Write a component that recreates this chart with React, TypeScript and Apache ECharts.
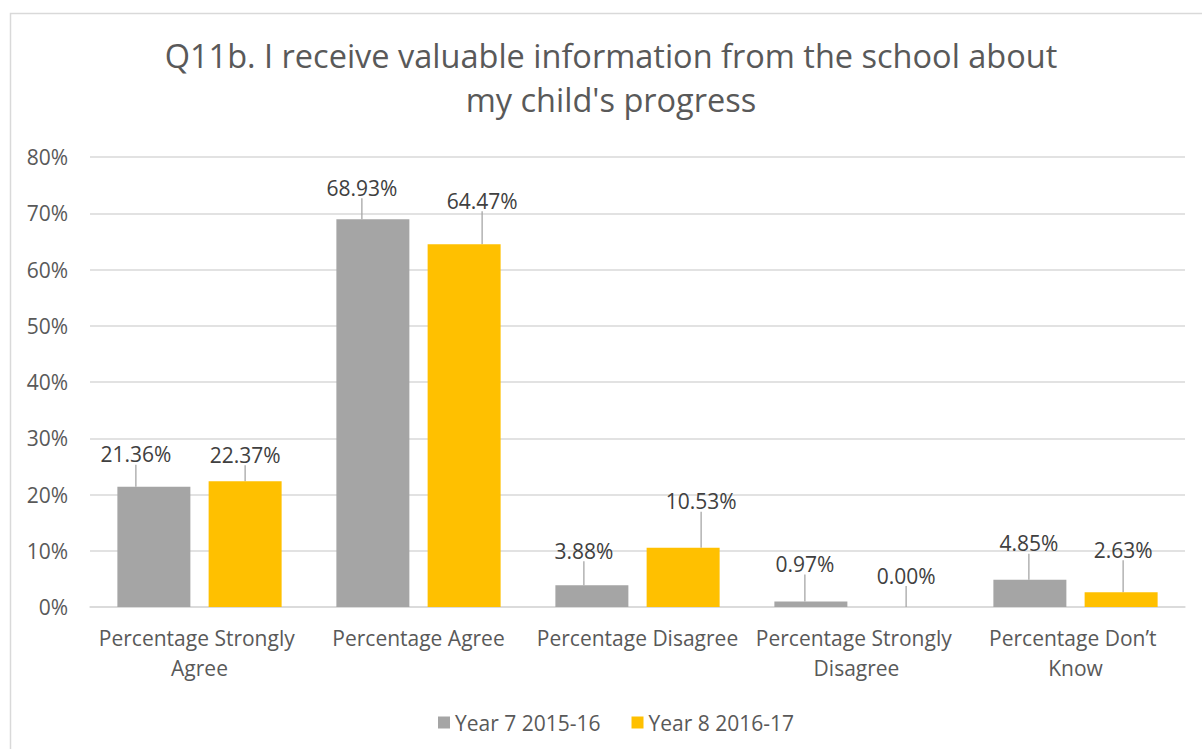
import React, { useEffect, useRef } from "react";
import * as echarts from "echarts";

const titleLines = [
  "Q11b. I receive valuable information from the school about",
  "my child's progress",
];
const categories = [
  "Percentage Strongly Agree",
  "Percentage Agree",
  "Percentage Disagree",
  "Percentage Strongly Disagree",
  "Percentage Don\u2019t Know",
];
const seriesNames = ["Year 7 2015-16", "Year 8 2016-17"];
const year7Values = [21.36, 68.93, 3.88, 0.97, 4.85];
const year8Values = [22.37, 64.47, 10.53, 0.0, 2.63];
const yTicks = [0, 10, 20, 30, 40, 50, 60, 70, 80];

// label callout offsets (layout only)
const labelOffsets = [
  [
    [-18, -17],
    [-11, -16],
    [-8, -19],
    [-6, -22],
    [-1, -21],
  ],
  [
    [0, -11],
    [18, -28],
    [18, -31],
    [4, -16],
    [2, -27],
  ],
];

const FONT = "'Open Sans', sans-serif";
const TEXT = "#595959";

export default function App() {
  const ref = useRef<HTMLDivElement>(null);
  useEffect(() => {
    if (!ref.current) return;
    const chart = echarts.init(ref.current, null, { renderer: "svg" });
    const mkSeries = (name: string, data: number[], color: string, si: number) => ({
      name,
      type: "bar",
      data,
      barGap: "25%",
      barCategoryGap: "25%",
      itemStyle: { color },
      label: {
        show: true,
        position: "top",
        distance: 5,
        formatter: (p: any) => Number(p.value).toFixed(2) + "%",
        color: "#404040",
        fontFamily: FONT,
        fontSize: 21,
      },
      labelLayout: (p: any) => ({
        dx: labelOffsets[si][p.dataIndex][0],
        dy: labelOffsets[si][p.dataIndex][1],
      }),
      labelLine: {
        show: true,
        length2: 0,
        lineStyle: { color: "#A6A6A6", width: 1.3 },
      },
    });
    chart.setOption({
      animation: false,
      backgroundColor: "#ffffff",
      textStyle: { fontFamily: FONT },
      title: {
        text: titleLines.join("\n"),
        left: 606,
        top: 28,
        textAlign: "center",
        textStyle: {
          fontFamily: FONT,
          fontSize: 32.5,
          fontWeight: "normal",
          color: TEXT,
          lineHeight: 44,
        },
      },
      graphic: [
        {
          type: "rect",
          shape: { x: 10.5, y: 13.5, width: 1400, height: 900 },
          style: { fill: "none", stroke: "#D9D9D9", lineWidth: 1.5 },
          silent: true,
          z: -10,
        },
      ],
      legend: {
        data: seriesNames,
        left: 433,
        top: 707,
        itemWidth: 12,
        itemHeight: 12,
        itemGap: 31,
        icon: "rect",
        textStyle: { fontFamily: FONT, fontSize: 21, color: TEXT },
      },
      grid: { left: 90, right: 17, top: 157, bottom: 142, containLabel: false },
      xAxis: {
        type: "category",
        data: categories,
        axisLine: { lineStyle: { color: "#D9D9D9", width: 1.5 } },
        axisTick: { show: false },
        axisLabel: {
          color: TEXT,
          fontFamily: FONT,
          fontSize: 21,
          lineHeight: 30,
          margin: 16,
          width: 212,
          overflow: "break",
          interval: 0,
        },
      },
      yAxis: {
        type: "value",
        min: yTicks[0],
        max: yTicks[yTicks.length - 1],
        interval: 10,
        axisLine: { show: false },
        axisTick: { show: false },
        splitLine: { lineStyle: { color: "#D9D9D9", width: 1.5 } },
        axisLabel: {
          color: TEXT,
          fontFamily: FONT,
          fontSize: 21,
          margin: 22,
          formatter: (v: number) => v + "%",
        },
      },
      series: [
        mkSeries(seriesNames[0], year7Values, "#A5A5A5", 0),
        mkSeries(seriesNames[1], year8Values, "#FFC000", 1),
      ],
    });
    return () => chart.dispose();
  }, []);
  return (
    <div
      ref={ref}
      style={{ position: "fixed", left: 0, top: 0, width: 1202, height: 749 }}
    />
  );
}
